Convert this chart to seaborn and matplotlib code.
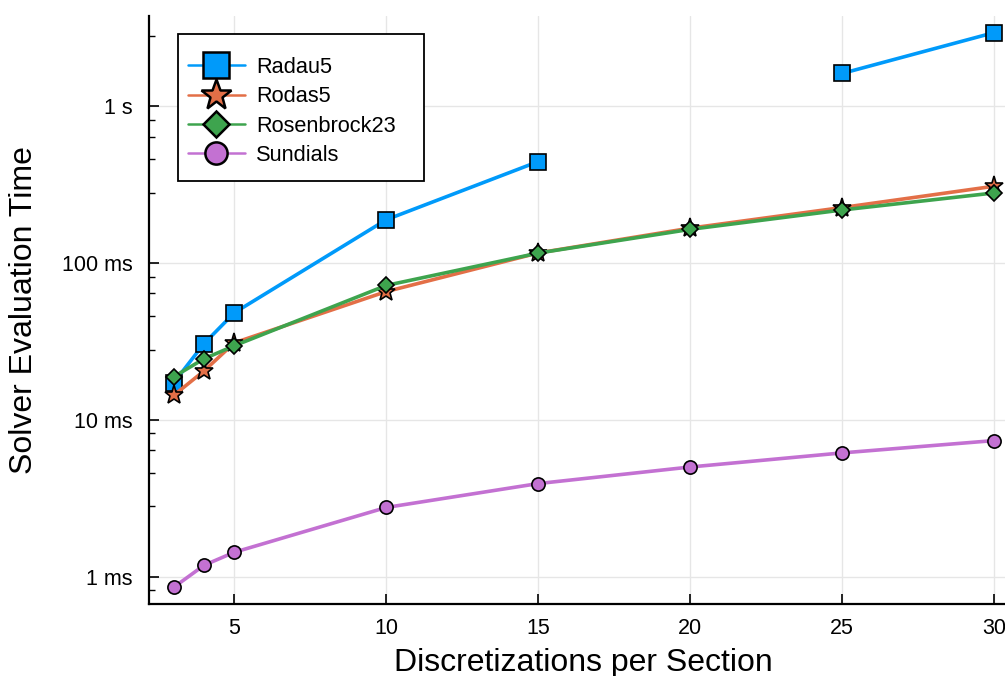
import numpy as np
import pandas as pd
import matplotlib
matplotlib.use("Agg")
import matplotlib.pyplot as plt
from matplotlib.lines import Line2D
from matplotlib.patches import Rectangle
from matplotlib.ticker import FixedLocator, FuncFormatter, NullFormatter
import seaborn as sns

# Discretization levels and solver timings (seconds)
discretizations = [3, 4, 5, 10, 15, 20, 25, 30]
radau5 = [0.0172, 0.0306, 0.0482, 0.189, 0.444, np.nan, 1.62, 2.95]
rodas5 = [0.0143, 0.0205, 0.0310, 0.0658, 0.116, 0.167, 0.226, 0.309]
rosenbrock23 = [0.0188, 0.0245, 0.0297, 0.0720, 0.1158, 0.164, 0.218, 0.280]
sundials = [0.000853, 0.00118, 0.00143, 0.00276, 0.00392, 0.00500, 0.00615, 0.00737]

solvers = ["Radau5", "Rodas5", "Rosenbrock23", "Sundials"]
series = [radau5, rodas5, rosenbrock23, sundials]
colors = ["#009AFA", "#E36F47", "#3EA44E", "#C371D2"]
markers = ["s", "*", "D", "o"]
marker_sizes = [11, 14, 8, 9.5]
legend_marker_sizes = [18.5, 22.5, 13.5, 16]

sns.set_theme(style="white")
plt.rcParams["font.family"] = ["Liberation Sans", "DejaVu Sans"]
plt.rcParams["text.color"] = "black"

# Long-form table; a gap (NaN) starts a new line segment
rows = []
for name, vals in zip(solvers, series):
    seg = 0
    for x, v in zip(discretizations, vals):
        if np.isnan(v):
            seg += 1
            continue
        rows.append({"solver": name, "x": x, "t": v, "seg": f"{name}-{seg}"})
df = pd.DataFrame(rows)

W, H = 1005, 676
fig = plt.figure(figsize=(W / 100, H / 100), dpi=100)
ax = fig.add_axes([149 / W, (H - 604) / H, (1018.6 - 149) / W, (604 - 16) / H])

for name, c, m, ms in zip(solvers, colors, markers, marker_sizes):
    sub = df[df["solver"] == name]
    sns.lineplot(data=sub, x="x", y="t", units="seg", estimator=None,
                 color=c, lw=2.6, marker=m, markersize=ms,
                 markeredgecolor="black", markeredgewidth=1.2,
                 legend=False, ax=ax, zorder=3)

ax.set_yscale("log")
ax.set_xlim(2.19, 30.81)
ax.set_ylim(10 ** -3.175, 10 ** 0.576)

ax.set_xticks([5, 10, 15, 20, 25, 30])
ax.yaxis.set_major_locator(FixedLocator([1e-3, 1e-2, 1e-1, 1]))
minor = [(1 + 1.8 * k) * 10.0 ** e for e in range(-4, 1) for k in range(1, 5)]
ax.yaxis.set_minor_locator(FixedLocator(minor))
ax.yaxis.set_minor_formatter(NullFormatter())


def fmt_time(v, pos):
    if v >= 1:
        return f"{v:g} s"
    return f"{v * 1000:g} ms"


ax.yaxis.set_major_formatter(FuncFormatter(fmt_time))

ax.grid(True, which="major", color="#e6e6e6", lw=1.0)
ax.set_axisbelow(True)
for s in ["top", "right"]:
    ax.spines[s].set_visible(False)
for s in ["left", "bottom"]:
    ax.spines[s].set_color("black")
    ax.spines[s].set_linewidth(1.6)

ax.tick_params(axis="both", which="major", direction="in", length=7, width=1.2,
               color="black", labelsize=15.5, labelcolor="black")
ax.tick_params(axis="y", which="major", pad=12, left=True)
ax.tick_params(axis="x", which="major", pad=10, bottom=True)
ax.tick_params(axis="y", which="minor", direction="in", length=4.5, width=1.0,
               color="black", left=True)

ax.set_xlabel("Discretizations per Section", fontsize=23, color="black")
ax.set_ylabel("Solver Evaluation Time", fontsize=23, color="black")
ax.xaxis.set_label_coords(0.5, (604 - 648) / 588)
ax.yaxis.set_label_coords((39 - 149) / 869.6, 0.5)

# Legend entries with enlarged markers inside a framed box
handles = [Line2D([], [], color=c, lw=1.8, marker=m, markersize=ms,
                  markeredgecolor="black", markeredgewidth=1.8)
           for c, m, ms in zip(colors, markers, legend_marker_sizes)]
leg = fig.legend(handles, solvers, loc="upper left",
                 bbox_to_anchor=(187.7 / W, 1 - 57 / H),
                 fontsize=15.7, frameon=False, handlelength=2.64,
                 borderpad=0, borderaxespad=0, labelspacing=0.38,
                 handletextpad=0.5, labelcolor="black")
fig.add_artist(Rectangle((178 / W, 1 - 181 / H), (424 - 178) / W, (181 - 34.3) / H,
                         transform=fig.transFigure, facecolor="white",
                         edgecolor="black", lw=1.3, zorder=leg.get_zorder() - 0.1))

fig.savefig("out.png", dpi=100)
